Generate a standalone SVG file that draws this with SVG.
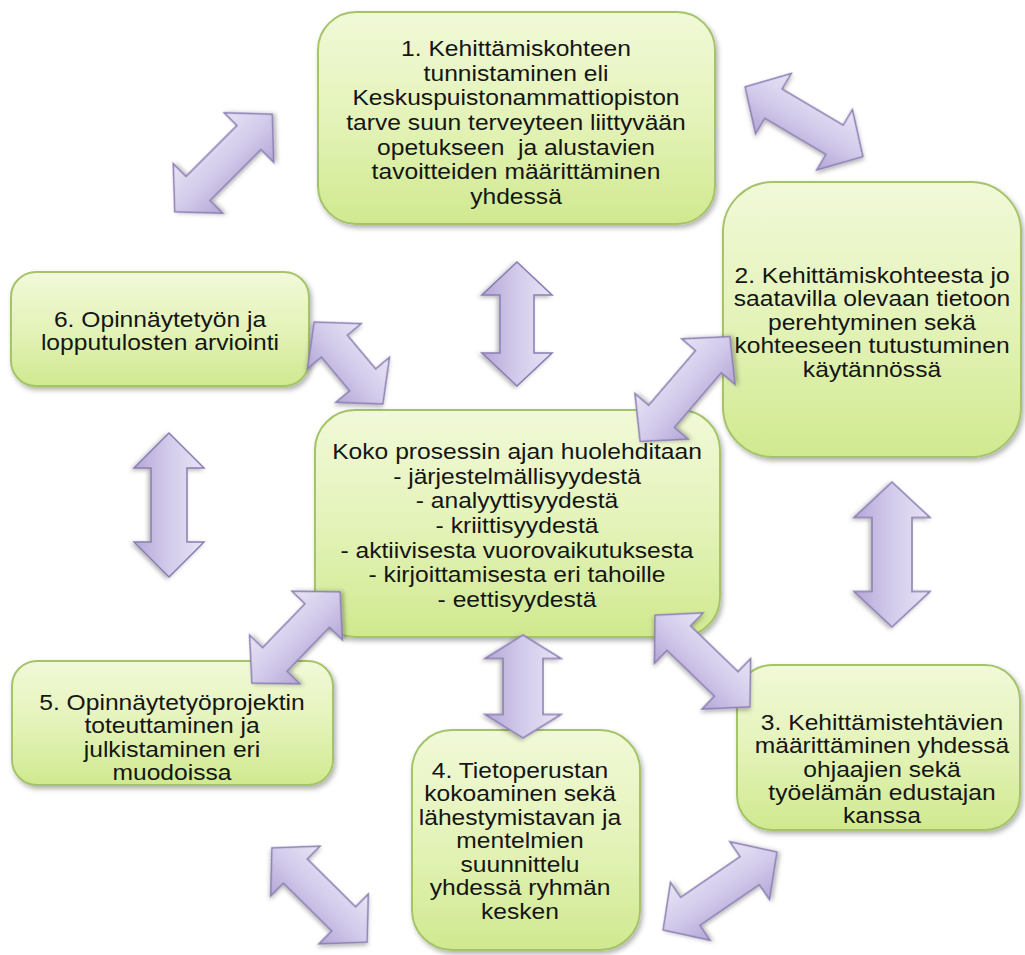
<svg xmlns="http://www.w3.org/2000/svg" width="1025" height="955" viewBox="0 0 1025 955">
<style>
.node{fill:url(#gNode);stroke:#a5c46a;stroke-width:2;filter:url(#sh)}
.arr{fill:url(#gArr);stroke:#8a7db3;stroke-width:1.5;stroke-linejoin:miter;filter:url(#sh2)}
text{font-family:"Liberation Sans",Arial,sans-serif;font-size:22px;fill:#151515;text-anchor:middle}
</style>
<defs>
<linearGradient id="gNode" x1="0" y1="0" x2="0" y2="1">
<stop offset="0" stop-color="#f1f9d8"/>
<stop offset="0.5" stop-color="#e4f3b9"/>
<stop offset="1" stop-color="#d0e98f"/>
</linearGradient>
<linearGradient id="gArr" x1="0" y1="0" x2="0" y2="1">
<stop offset="0" stop-color="#e8e4f5"/>
<stop offset="0.5" stop-color="#d3cbeb"/>
<stop offset="1" stop-color="#b4a7d7"/>
</linearGradient>
<filter id="sh" x="-10%" y="-10%" width="125%" height="125%">
<feDropShadow dx="2" dy="3" stdDeviation="2.5" flood-color="#000" flood-opacity="0.3"/>
</filter>
<filter id="sh2" x="-20%" y="-20%" width="150%" height="150%">
<feDropShadow dx="1.5" dy="2" stdDeviation="2" flood-color="#000" flood-opacity="0.3"/>
</filter>
</defs>
<rect width="1025" height="955" fill="#fff"/>

<g id="node1">
<rect class="node" x="318" y="12" width="397" height="212" rx="38"/>
<g transform="translate(516,0) scale(1.12,1)">
<text x="0" y="56">1. Kehittämiskohteen</text>
<text x="0" y="80.7">tunnistaminen eli</text>
<text x="0" y="105.4">Keskuspuistonammattiopiston</text>
<text x="0" y="130.1">tarve suun terveyteen liittyvään</text>
<text x="0" y="154.8" style="white-space:pre">opetukseen  ja alustavien</text>
<text x="0" y="179.5">tavoitteiden määrittäminen</text>
<text x="0" y="204.2">yhdessä</text>
</g>
</g>

<g id="node2">
<rect class="node" x="723" y="182" width="298" height="275" rx="50"/>
<g transform="translate(872,0) scale(1.12,1)">
<text x="0" y="283">2. Kehittämiskohteesta jo</text>
<text x="0" y="306.5">saatavilla olevaan tietoon</text>
<text x="0" y="330">perehtyminen sekä</text>
<text x="0" y="353.5">kohteeseen tutustuminen</text>
<text x="0" y="377">käytännössä</text>
</g>
</g>

<g id="node6">
<rect class="node" x="11" y="272" width="298" height="114" rx="25"/>
<g transform="translate(160,0) scale(1.12,1)">
<text x="0" y="327">6. Opinnäytetyön ja</text>
<text x="0" y="350.5">lopputulosten arviointi</text>
</g>
</g>

<g id="center">
<rect class="node" x="315" y="410" width="405" height="227" rx="40"/>
<g transform="translate(517,0) scale(1.12,1)">
<text x="0" y="459">Koko prosessin ajan huolehditaan</text>
<text x="0" y="483.7">- järjestelmällisyydestä</text>
<text x="0" y="508.4">- analyyttisyydestä</text>
<text x="0" y="533.1">- kriittisyydestä</text>
<text x="0" y="557.8">- aktiivisesta vuorovaikutuksesta</text>
<text x="0" y="582.5">- kirjoittamisesta eri tahoille</text>
<text x="0" y="607.2">- eettisyydestä</text>
</g>
</g>

<g id="node5">
<rect class="node" x="12" y="661" width="321" height="124" rx="25"/>
<g transform="translate(172,0) scale(1.12,1)">
<text x="0" y="710">5. Opinnäytetyöprojektin</text>
<text x="0" y="733.5">toteuttaminen ja</text>
<text x="0" y="757">julkistaminen eri</text>
<text x="0" y="780.5">muodoissa</text>
</g>
</g>

<g id="node4">
<rect class="node" x="412" y="730" width="228" height="220" rx="40"/>
<g transform="translate(520,0) scale(1.12,1)">
<text x="0" y="778">4. Tietoperustan</text>
<text x="0" y="801.5">kokoaminen sekä</text>
<text x="0" y="825">lähestymistavan ja</text>
<text x="0" y="848.5">mentelmien</text>
<text x="0" y="872">suunnittelu</text>
<text x="0" y="895.5">yhdessä ryhmän</text>
<text x="0" y="919">kesken</text>
</g>
</g>

<g id="node3">
<rect class="node" x="737" y="665" width="283" height="165" rx="35"/>
<g transform="translate(882,0) scale(1.12,1)">
<text x="0" y="730">3. Kehittämistehtävien</text>
<text x="0" y="753.3">määrittäminen yhdessä</text>
<text x="0" y="776.6">ohjaajien sekä</text>
<text x="0" y="800">työelämän edustajan</text>
<text x="0" y="823.3">kanssa</text>
</g>
</g>

<g id="connectors">
<!-- A: 6 <-> 1 -->
<path class="arr" transform="translate(223.5,163) rotate(-45)" d="M-69,0 L-36,-35 L-36,-17 L36,-17 L36,-35 L69,0 L36,35 L36,17 L-36,17 L-36,35 Z"/>
<!-- B: 1 <-> 2 -->
<path class="arr" transform="translate(804,121.7) rotate(30.6)" d="M-68.5,0 L-35.5,-35 L-35.5,-17 L35.5,-17 L35.5,-35 L68.5,0 L35.5,35 L35.5,17 L-35.5,17 L-35.5,35 Z"/>
<!-- C: center <-> 2 -->
<path class="arr" transform="translate(685,389) rotate(-49.4)" d="M-69,0 L-36,-35 L-36,-17 L36,-17 L36,-35 L69,0 L36,35 L36,17 L-36,17 L-36,35 Z"/>
<!-- D: 6 <-> center -->
<path class="arr" transform="translate(348.5,363) rotate(50)" d="M-53.5,0 L-22,-35 L-22,-17 L22,-17 L22,-35 L53.5,0 L22,35 L22,17 L-22,17 L-22,35 Z"/>
<!-- E: center <-> 5 -->
<path class="arr" transform="translate(296,637.5) rotate(-46)" d="M-63.5,0 L-30.5,-35 L-30.5,-17 L30.5,-17 L30.5,-35 L63.5,0 L30.5,35 L30.5,17 L-30.5,17 L-30.5,35 Z"/>
<!-- F: center <-> 3 -->
<path class="arr" transform="translate(702.5,661) rotate(44)" d="M-66,0 L-33,-35 L-33,-17 L33,-17 L33,-35 L66,0 L33,35 L33,17 L-33,17 L-33,35 Z"/>
<!-- G: 5 <-> 4 -->
<path class="arr" transform="translate(319.5,895) rotate(44.7)" d="M-67,0 L-34,-35 L-34,-17 L34,-17 L34,-35 L67,0 L34,35 L34,17 L-34,17 L-34,35 Z"/>
<!-- H: 4 <-> 3 -->
<path class="arr" transform="translate(720,891) rotate(-34.4)" d="M-69,0 L-36,-35 L-36,-17 L36,-17 L36,-35 L69,0 L36,35 L36,17 L-36,17 L-36,35 Z"/>
<!-- V1: 1 <-> center -->
<path class="arr" transform="translate(517,324) rotate(90)" d="M-62,0 L-29,-35 L-29,-17 L29,-17 L29,-35 L62,0 L29,35 L29,17 L-29,17 L-29,35 Z"/>
<!-- V2: 6 <-> 5 -->
<path class="arr" transform="translate(169,505) rotate(90)" d="M-72,0 L-37,-35 L-37,-18 L37,-18 L37,-35 L72,0 L37,35 L37,18 L-37,18 L-37,35 Z"/>
<!-- V3: 2 <-> 3 -->
<path class="arr" transform="translate(892,554.5) rotate(90)" d="M-72.5,0 L-37,-38 L-37,-20 L37,-20 L37,-38 L72.5,0 L37,38 L37,20 L-37,20 L-37,38 Z"/>
<!-- V4: center <-> 4 -->
<path class="arr" transform="translate(523,686.5) rotate(90)" d="M-51.5,0 L-28,-38 L-28,-20 L28,-20 L28,-38 L51.5,0 L28,38 L28,20 L-28,20 L-28,38 Z"/>
</g>
</svg>
